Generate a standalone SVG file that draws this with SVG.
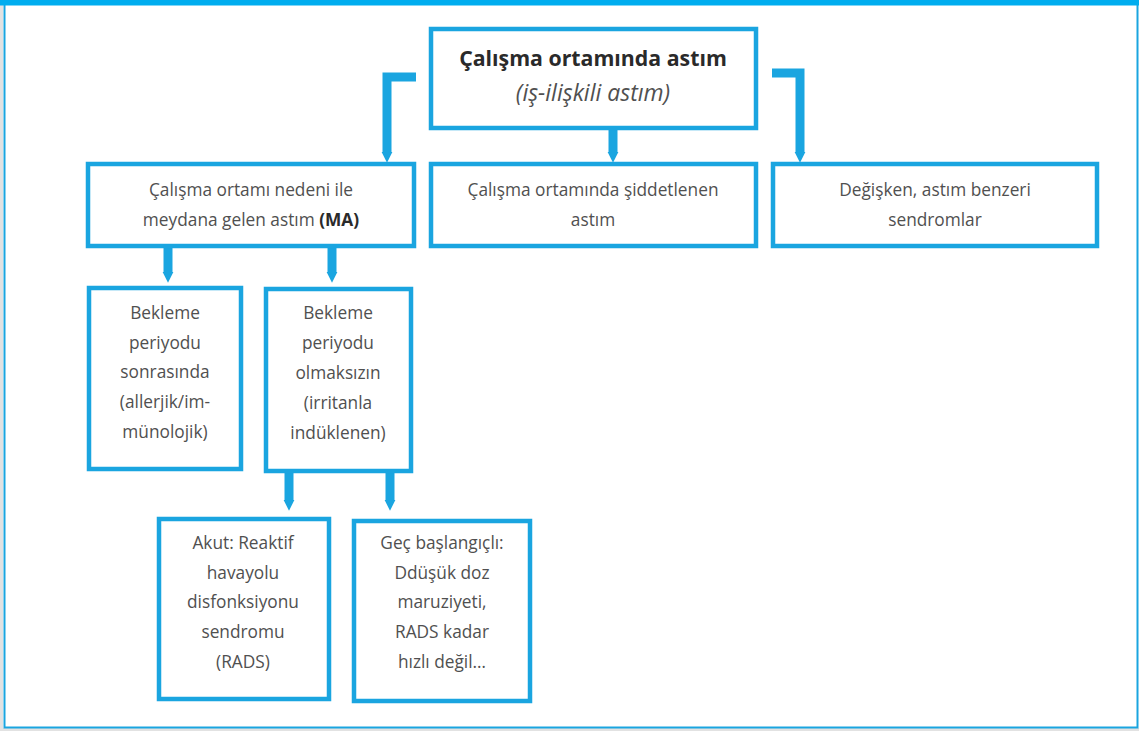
<svg xmlns="http://www.w3.org/2000/svg" width="1139" height="731" viewBox="0 0 1139 731">
<defs>
<style>
.box{fill:#fff;stroke:#1aa5e0;stroke-width:4.5}
.t{font-family:"Open Sans","Liberation Sans",sans-serif;font-size:17.3px;fill:#505050;text-anchor:middle}
.title{font-family:"Open Sans","Liberation Sans",sans-serif;font-size:21.3px;font-weight:bold;fill:#2a2a2a;text-anchor:middle}
.sub{font-family:"Open Sans","Liberation Sans",sans-serif;font-size:23px;font-style:italic;fill:#505050;text-anchor:middle}
.c{fill:none;stroke:#1aa5e0;stroke-width:9}
</style>
<marker id="ah" viewBox="0 0 10 10" refX="0" refY="5" markerWidth="1.2" markerHeight="2" markerUnits="strokeWidth" orient="auto">
<path d="M0,0 L10,5 L0,10 Z" fill="#1aa5e0"/>
</marker>
</defs>
<rect x="0" y="0" width="1139" height="731" fill="#fff"/>
<rect x="0" y="0" width="3" height="731" fill="#e2e2e2"/>
<rect x="0" y="728" width="1139" height="3" fill="#e2e2e2"/>
<g id="frame" fill="none" stroke="#1aa5e0" stroke-width="2">
<path d="M4.5,5 V727.5 H1137.5 V5"/>
</g>
<rect x="0" y="0" width="1139" height="5.5" fill="#00adef"/>

<g id="connectors">
<path class="c" d="M416,77 H387 V152" marker-end="url(#ah)"/>
<path class="c" d="M613,129 V152" marker-end="url(#ah)"/>
<path class="c" d="M772,73 H800 V152" marker-end="url(#ah)"/>
<path class="c" d="M168,247 V272" marker-end="url(#ah)"/>
<path class="c" d="M332,247 V272" marker-end="url(#ah)"/>
<path class="c" d="M289,472 V500" marker-end="url(#ah)"/>
<path class="c" d="M390,472 V500" marker-end="url(#ah)"/>
</g>

<g id="root">
<rect class="box" x="431" y="29" width="325" height="99"/>
<text class="title" x="593" y="66">Çalışma ortamında astım</text>
<text class="sub" x="593" y="101">(iş-ilişkili astım)</text>
</g>

<g id="ma">
<rect class="box" x="88" y="164" width="326" height="82"/>
<text class="t" x="251" y="196">Çalışma ortamı nedeni ile</text>
<text class="t" x="251" y="226">meydana gelen astım <tspan font-weight="bold" fill="#2a2a2a">(MA)</tspan></text>
</g>

<g id="siddetlenen">
<rect class="box" x="431" y="164" width="325" height="82"/>
<text class="t" x="593" y="196">Çalışma ortamında şiddetlenen</text>
<text class="t" x="593" y="226">astım</text>
</g>

<g id="degisken">
<rect class="box" x="773" y="164" width="324" height="82"/>
<text class="t" x="935" y="196">Değişken, astım benzeri</text>
<text class="t" x="935" y="226">sendromlar</text>
</g>

<g id="allerjik">
<rect class="box" x="89" y="288" width="152" height="181"/>
<text class="t" x="165" y="319">Bekleme</text>
<text class="t" x="165" y="349">periyodu</text>
<text class="t" x="165" y="378">sonrasında</text>
<text class="t" x="165" y="408">(allerjik/im-</text>
<text class="t" x="165" y="438">münolojik)</text>
</g>

<g id="irritan">
<rect class="box" x="266" y="289" width="145" height="182"/>
<text class="t" x="338" y="319">Bekleme</text>
<text class="t" x="338" y="349">periyodu</text>
<text class="t" x="338" y="379">olmaksızın</text>
<text class="t" x="338" y="409">(irritanla</text>
<text class="t" x="338" y="439">indüklenen)</text>
</g>

<g id="rads">
<rect class="box" x="159" y="519" width="170" height="180"/>
<text class="t" x="243" y="549">Akut: Reaktif</text>
<text class="t" x="243" y="579">havayolu</text>
<text class="t" x="243" y="608">disfonksiyonu</text>
<text class="t" x="243" y="638">sendromu</text>
<text class="t" x="243" y="668">(RADS)</text>
</g>

<g id="gec">
<rect class="box" x="354" y="521" width="176" height="180"/>
<text class="t" x="442" y="549">Geç başlangıçlı:</text>
<text class="t" x="442" y="579">Ddüşük doz</text>
<text class="t" x="442" y="608">maruziyeti,</text>
<text class="t" x="442" y="638">RADS kadar</text>
<text class="t" x="442" y="668">hızlı değil…</text>
</g>
</svg>
